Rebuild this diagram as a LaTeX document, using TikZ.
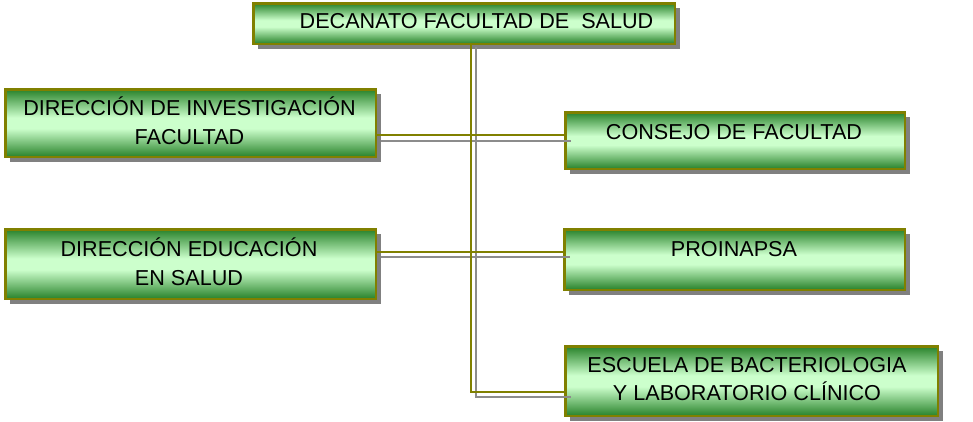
\documentclass[tikz,border=0pt]{standalone}
\usepackage{fontspec}
\setmainfont{Liberation Sans}
\usetikzlibrary{shadows}
\definecolor{dgreen}{RGB}{40,130,42}
\definecolor{lgreen}{RGB}{204,255,204}
\definecolor{oliv}{RGB}{128,128,0}
\definecolor{shgray}{RGB}{128,128,128}
\definecolor{lngray}{RGB}{140,140,140}
\pgfdeclareverticalshading{greenband}{100bp}{color(0bp)=(dgreen); color(25bp)=(dgreen); color(46bp)=(lgreen); color(54bp)=(lgreen); color(75bp)=(dgreen); color(100bp)=(dgreen)}
\tikzset{
  box/.style={draw=oliv, line width=2.5pt, inner sep=0pt, outer sep=0pt,
    shade, shading=greenband,
    drop shadow={shadow xshift=5pt, shadow yshift=-5pt, fill=shgray, opacity=1}},
  lbl/.style={inner sep=0pt, anchor=base, align=center, font=\fontsize{21.6}{28.5}\selectfont},
  oline/.style={draw=oliv, line width=2pt},
  gline/.style={draw=lngray, line width=1.8pt},
}
\begin{document}
\begin{tikzpicture}[x=1pt,y=1pt]
\useasboundingbox (0,0) rectangle (973,-421);
% boxes
\node[box, minimum width=421.5pt, minimum height=40.5pt] (top) at (464,-23.5) {};
\node[box, minimum width=370.5pt, minimum height=67.5pt] (dinv) at (190.5,-123) {};
\node[box, minimum width=339.5pt, minimum height=56.5pt] (cons) at (735,-140.5) {};
\node[box, minimum width=370.5pt, minimum height=69.5pt] (dedu) at (190.5,-264) {};
\node[box, minimum width=340.5pt, minimum height=60.5pt] (proi) at (734.5,-259.5) {};
\node[box, minimum width=372.5pt, minimum height=69.5pt] (esc) at (751.5,-381) {};
% texts (base anchor = baseline of the last line)
\node[lbl] (ttop) at (476.5,-28.3) {DECANATO FACULTAD DE\ \ SALUD};
\node[lbl] (tdinv) at (189.5,-144) {DIRECCIÓN DE INVESTIGACIÓN\\FACULTAD};
\node[lbl] (tcons) at (734,-139) {CONSEJO DE FACULTAD};
\node[lbl] (tdedu) at (189,-285) {DIRECCIÓN EDUCACIÓN\\EN SALUD};
\node[lbl] (tproi) at (734,-256) {PROINAPSA};
\node[lbl] (tesc) at (747,-400.5) {ESCUELA DE BACTERIOLOGIA\\Y LABORATORIO CLÍNICO};
% junction columns
\coordinate (jo) at (471,0);
\coordinate (jg) at (476,0);
% connectors
\draw[gline] (top.south -| jg) ++(0,-3) |- ([xshift=6pt,yshift=-16pt]esc.west);
\draw[gline] ([xshift=5pt,yshift=-18pt]dinv.east) coordinate (g1) -- (g1 -| cons.west) -- ++(6,0);
\draw[gline] ([xshift=5pt,yshift=7pt]dedu.east) coordinate (g2) -- (g2 -| proi.west) -- ++(6,0);
\draw[oline] (top.south -| jo) |- ([yshift=-11pt]esc.west);
\draw[oline] ([yshift=-12pt]dinv.east) coordinate (o1) -- (o1 -| cons.west);
\draw[oline] ([yshift=12pt]dedu.east) coordinate (o2) -- (o2 -| proi.west);
\end{tikzpicture}
\end{document}
